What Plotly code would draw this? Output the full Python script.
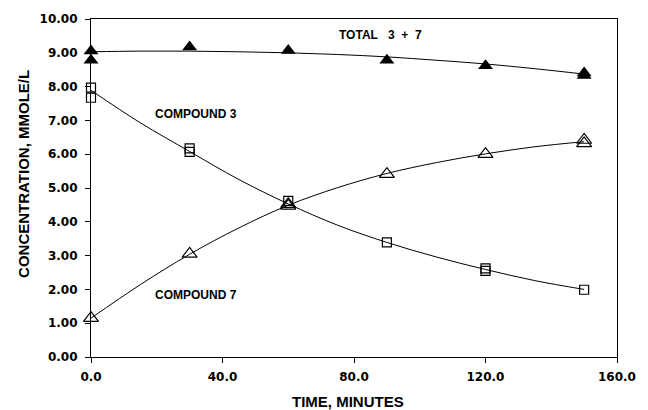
import plotly.graph_objects as go

# Measured concentrations (mmole/L) vs time (minutes)
total_t = [0, 0, 30, 60, 90, 120, 150, 150]
total_c = [9.05, 8.78, 9.17, 9.07, 8.78, 8.62, 8.33, 8.40]

c3_t = [0, 0, 30, 30, 60, 90, 120, 120, 150]
c3_c = [7.97, 7.67, 6.17, 6.07, 4.62, 3.39, 2.62, 2.55, 1.99]

c7_t = [0, 30, 60, 60, 90, 120, 150, 150]
c7_c = [1.15, 3.05, 4.47, 4.52, 5.41, 6.00, 6.32, 6.42]

# Smoothed fit curves
fit_t = [0, 15, 30, 45, 60, 75, 90, 105, 120, 135, 150]
fit_total = [9.03, 9.05, 9.05, 9.03, 9.00, 8.95, 8.88, 8.78, 8.67, 8.53, 8.37]
fit_c3 = [7.89, 6.93, 6.08, 5.25, 4.53, 3.90, 3.39, 2.96, 2.59, 2.26, 2.00]
fit_c7 = [1.15, 2.14, 3.04, 3.82, 4.49, 5.01, 5.43, 5.75, 6.01, 6.22, 6.37]

x_ticks = [0, 40, 80, 120, 160]
y_ticks = [0, 1, 2, 3, 4, 5, 6, 7, 8, 9, 10]

TICK_FONT = "DejaVu Sans"
TEXT_FONT = "Liberation Sans"

fig = go.Figure()

for ys in (fit_total, fit_c3, fit_c7):
    fig.add_trace(go.Scatter(x=fit_t, y=ys, mode="lines", line_shape="spline",
                             line=dict(color="black", width=1), hoverinfo="skip"))

fig.add_trace(go.Scatter(x=total_t, y=total_c, mode="markers", cliponaxis=False,
                         marker=dict(symbol="triangle-up", size=13, color="black")))
fig.add_trace(go.Scatter(x=c3_t, y=c3_c, mode="markers", cliponaxis=False,
                         marker=dict(symbol="square-open", size=9, color="black",
                                     line=dict(width=1.2))))
fig.add_trace(go.Scatter(x=c7_t, y=c7_c, mode="markers", cliponaxis=False,
                         marker=dict(symbol="triangle-up-open", size=13, color="black",
                                     line=dict(width=1.2))))

NB = "\u00a0"
labels = [
    ("TOTAL" + NB * 3 + "3" + NB * 2 + "+" + NB * 2 + "7", 88.0, 9.54),
    ("COMPOUND 3", 31.9, 7.18),
    ("COMPOUND 7", 31.9, 1.83),
]
for text, lx, ly in labels:
    fig.add_annotation(x=lx, y=ly, text=text, showarrow=False,
                       font=dict(family=TEXT_FONT, size=12, color="black", weight="bold"))

# Axis titles
fig.add_annotation(xref="paper", yref="paper", x=0.489, y=-0.132, text="TIME, MINUTES",
                   showarrow=False, xanchor="center", yanchor="middle",
                   font=dict(family=TEXT_FONT, size=15, color="black", weight="bold"))
fig.add_annotation(xref="paper", yref="paper", x=-0.1287, y=0.5426, text="CONCENTRATION, MMOLE/L",
                   showarrow=False, textangle=-90, xanchor="center", yanchor="middle",
                   font=dict(family=TEXT_FONT, size=15, color="black", weight="bold"))

fig.update_layout(
    width=648, height=410,
    margin=dict(l=91, r=21, t=17, b=53),
    paper_bgcolor="white", plot_bgcolor="white",
    showlegend=False,
    font=dict(family=TEXT_FONT, color="black"),
)
fig.update_xaxes(
    range=[0, 160], tickvals=x_ticks, tickformat=".1f",
    showgrid=False, zeroline=False,
    showline=True, linecolor="black", linewidth=1.2, mirror=True,
    ticks="outside", ticklen=5, tickcolor="black", ticklabelstandoff=3,
    tickfont=dict(family=TICK_FONT, size=12, weight="bold"),
)
fig.update_yaxes(
    range=[0, 10], tickvals=y_ticks, tickformat=".2f",
    showgrid=False, zeroline=False,
    showline=True, linecolor="black", linewidth=1.2, mirror=True,
    ticks="outside", ticklen=5, tickcolor="black", ticklabelstandoff=5,
    tickfont=dict(family=TICK_FONT, size=12, weight="bold"),
)

fig.write_html("out.html")
